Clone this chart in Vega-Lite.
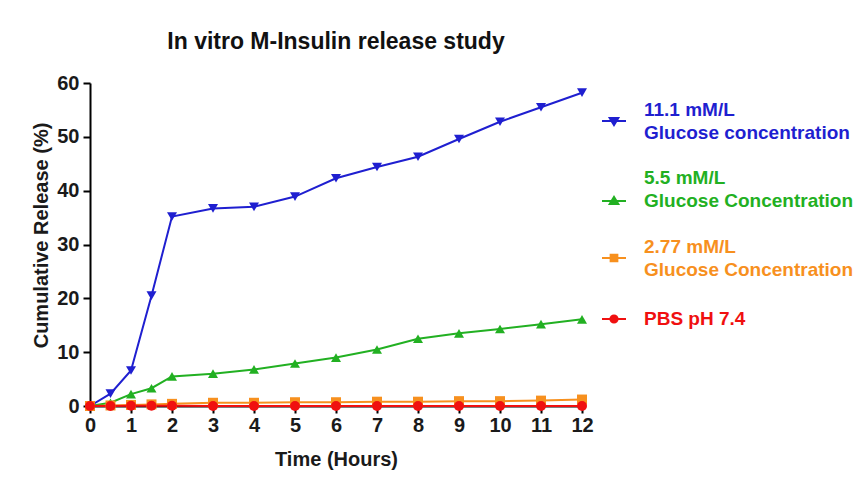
{
  "$schema": "https://vega.github.io/schema/vega-lite/v6.json",
  "width": 492,
  "height": 323,
  "autosize": {"type": "none"},
  "padding": {"left": 90, "top": 83, "right": 276, "bottom": 77},
  "background": "white",
  "config": {"view": {"stroke": null}, "font": "Liberation Sans"},
  "title": {"text": "In vitro M-Insulin release study", "font": "Liberation Sans", "fontSize": 23, "fontWeight": "bold", "color": "#111111", "offset": 19},
  "data": {"values": [
    {"t": 0, "v": 0, "s": "11.1"}, {"t": 0.5, "v": 2.3, "s": "11.1"}, {"t": 1, "v": 6.6, "s": "11.1"}, {"t": 1.5, "v": 20.5, "s": "11.1"}, {"t": 2, "v": 35.2, "s": "11.1"}, {"t": 3, "v": 36.7, "s": "11.1"}, {"t": 4, "v": 37.0, "s": "11.1"}, {"t": 5, "v": 38.9, "s": "11.1"}, {"t": 6, "v": 42.3, "s": "11.1"}, {"t": 7, "v": 44.4, "s": "11.1"}, {"t": 8, "v": 46.3, "s": "11.1"}, {"t": 9, "v": 49.6, "s": "11.1"}, {"t": 10, "v": 52.8, "s": "11.1"}, {"t": 11, "v": 55.5, "s": "11.1"}, {"t": 12, "v": 58.2, "s": "11.1"},
    {"t": 0, "v": 0, "s": "5.5"}, {"t": 0.5, "v": 0.6, "s": "5.5"}, {"t": 1, "v": 2.2, "s": "5.5"}, {"t": 1.5, "v": 3.3, "s": "5.5"}, {"t": 2, "v": 5.5, "s": "5.5"}, {"t": 3, "v": 6.0, "s": "5.5"}, {"t": 4, "v": 6.8, "s": "5.5"}, {"t": 5, "v": 7.9, "s": "5.5"}, {"t": 6, "v": 9.0, "s": "5.5"}, {"t": 7, "v": 10.5, "s": "5.5"}, {"t": 8, "v": 12.5, "s": "5.5"}, {"t": 9, "v": 13.5, "s": "5.5"}, {"t": 10, "v": 14.3, "s": "5.5"}, {"t": 11, "v": 15.2, "s": "5.5"}, {"t": 12, "v": 16.1, "s": "5.5"},
    {"t": 0, "v": 0, "s": "2.77"}, {"t": 0.5, "v": 0.1, "s": "2.77"}, {"t": 1, "v": 0.2, "s": "2.77"}, {"t": 1.5, "v": 0.3, "s": "2.77"}, {"t": 2, "v": 0.4, "s": "2.77"}, {"t": 3, "v": 0.6, "s": "2.77"}, {"t": 4, "v": 0.6, "s": "2.77"}, {"t": 5, "v": 0.7, "s": "2.77"}, {"t": 6, "v": 0.7, "s": "2.77"}, {"t": 7, "v": 0.8, "s": "2.77"}, {"t": 8, "v": 0.8, "s": "2.77"}, {"t": 9, "v": 0.9, "s": "2.77"}, {"t": 10, "v": 0.9, "s": "2.77"}, {"t": 11, "v": 1.0, "s": "2.77"}, {"t": 12, "v": 1.2, "s": "2.77"},
    {"t": 0, "v": 0, "s": "PBS"}, {"t": 0.5, "v": 0, "s": "PBS"}, {"t": 1, "v": 0.05, "s": "PBS"}, {"t": 1.5, "v": 0.05, "s": "PBS"}, {"t": 2, "v": 0.05, "s": "PBS"}, {"t": 3, "v": 0, "s": "PBS"}, {"t": 4, "v": 0, "s": "PBS"}, {"t": 5, "v": 0, "s": "PBS"}, {"t": 6, "v": 0, "s": "PBS"}, {"t": 7, "v": 0, "s": "PBS"}, {"t": 8, "v": 0, "s": "PBS"}, {"t": 9, "v": 0, "s": "PBS"}, {"t": 10, "v": 0, "s": "PBS"}, {"t": 11, "v": 0, "s": "PBS"}, {"t": 12, "v": 0, "s": "PBS"}
  ]},
  "transform": [{"calculate": "datum.s", "as": "marker"}],
  "encoding": {
    "x": {"field": "t", "type": "quantitative", "scale": {"domain": [0, 12], "nice": false, "zero": false},
      "axis": {"values": [0,1,2,3,4,5,6,7,8,9,10,11,12], "title": "Time (Hours)", "grid": false, "domainColor": "#000000", "domainWidth": 2, "tickColor": "#000000", "tickWidth": 2, "tickSize": 7, "labelFont": "Liberation Sans", "labelFontSize": 20, "labelFontWeight": "bold", "labelColor": "#1a1a1a", "labelPadding": 2, "labelOverlap": false, "labelFlush": false, "titleFont": "Liberation Sans", "titleFontSize": 20, "titleFontWeight": "bold", "titleColor": "#1a1a1a", "titlePadding": 14}},
    "y": {"field": "v", "type": "quantitative", "scale": {"domain": [0, 60], "nice": false},
      "axis": {"values": [0,10,20,30,40,50,60], "title": "Cumulative Release (%)", "grid": false, "domainColor": "#000000", "domainWidth": 2, "tickColor": "#000000", "tickWidth": 2, "tickSize": 7, "labelFont": "Liberation Sans", "labelFontSize": 20, "labelFontWeight": "bold", "labelColor": "#1a1a1a", "labelPadding": 4, "labelOverlap": false, "labelFlush": false, "titleFont": "Liberation Sans", "titleFontSize": 20, "titleFontWeight": "bold", "titleColor": "#1a1a1a", "titlePadding": 5, "titleY": 152}},
    "color": {"field": "s", "type": "nominal",
      "scale": {"domain": ["11.1", "5.5", "2.77", "PBS"], "range": ["#1f1fd0", "#22b022", "#f7901e", "#f01010"]},
      "legend": {
        "orient": "none", "legendX": 511, "legendY": 25, "title": null,
        "labelFont": "Liberation Sans", "labelFontSize": 19, "labelFontWeight": "bold", "labelLimit": 300, "labelOffset": 17,
        "labelExpr": "datum.value == '11.1' ? ['11.1 mM/L', 'Glucose concentration'] : datum.value == '5.5' ? ['5.5 mM/L', 'Glucose Concentration'] : datum.value == '2.77' ? ['2.77 mM/L', 'Glucose Concentration'] : 'PBS pH 7.4'",
        "symbolSize": 576, "symbolStrokeWidth": 2, "rowPadding": 26,
        "symbolType": {"expr": "datum.value == '11.1' ? 'M-1,0H1M-0.36,-0.26L0.36,-0.26L0,0.34Z' : datum.value == '5.5' ? 'M-1,0H1M-0.36,0.26L0.36,0.26L0,-0.34Z' : datum.value == '2.77' ? 'M-1,0H1M-0.28,-0.28H0.28V0.28H-0.28Z' : 'M-1,0H1M-0.3,0A0.3,0.3 0 1,0 0.3,0A0.3,0.3 0 1,0 -0.3,0Z'"},
        "encode": {
          "labels": {"update": {"fill": {"scale": "color", "field": "value"}, "lineHeight": {"value": 23}, "dy": {"signal": "datum.value == '5.5' ? -23 : datum.value == 'PBS' ? 0 : -11.5"}}},
          "symbols": {"update": {
            "fill": {"scale": "color", "field": "value"},
            "stroke": {"scale": "color", "field": "value"},
            "strokeWidth": {"value": 2},
            "opacity": {"value": 1},
            "shape": {"signal": "datum.value == '11.1' ? 'M-1,0H1M-0.36,-0.26L0.36,-0.26L0,0.34Z' : datum.value == '5.5' ? 'M-1,0H1M-0.36,0.26L0.36,0.26L0,-0.34Z' : datum.value == '2.77' ? 'M-1,0H1M-0.28,-0.28H0.28V0.28H-0.28Z' : 'M-1,0H1M-0.3,0A0.3,0.3 0 1,0 0.3,0A0.3,0.3 0 1,0 -0.3,0Z'"}
          }}
        }
      }}
  },
  "layer": [
    {"mark": {"type": "line", "strokeWidth": 2}},
    {"mark": {"type": "point", "filled": true, "opacity": 1, "size": 100},
     "encoding": {"shape": {"field": "marker", "type": "nominal", "scale": {"range": ["triangle-down", "square", "triangle-up", "circle"]}, "legend": null}}}
  ]
}
